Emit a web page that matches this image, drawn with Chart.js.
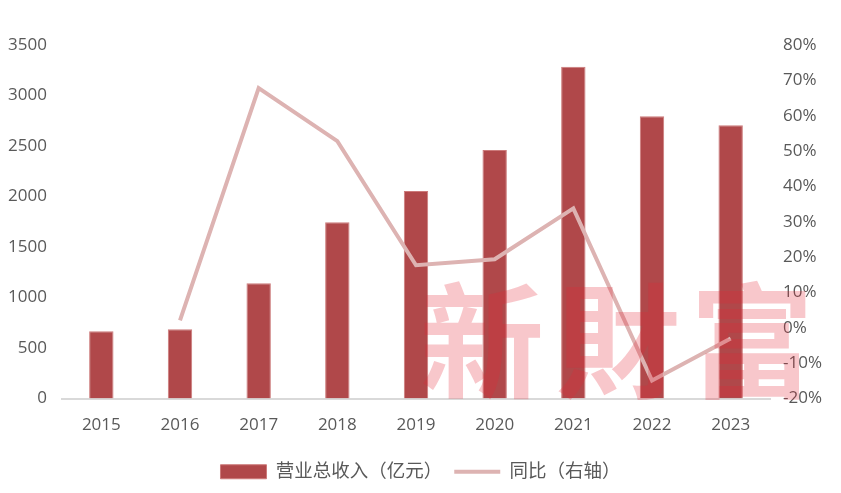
<!DOCTYPE html>
<html>
<head>
<meta charset="utf-8">
<script src="https://cdn.jsdelivr.net/npm/chart.js@4/dist/chart.umd.min.js"></script>
<style>
    html, body { margin: 0; padding: 0; background: #fff; }
    #wrap { width: 841px; height: 493px; }
</style>
</head>
<body>
<div id="wrap"><canvas id="revenueChart"></canvas></div>
<script>
const years = ['2015', '2016', '2017', '2018', '2019', '2020', '2021', '2022', '2023'];
const revenue = [665, 685, 1140, 1745, 2055, 2460, 3285, 2795, 2705];
const yoyPct = [null, 2.1, 67.8, 52.8, 17.7, 19.4, 33.8, -14.9, -3.0];
const revenueTicks = [0, 500, 1000, 1500, 2000, 2500, 3000, 3500];
const pctTicks = [-20, -10, 0, 10, 20, 30, 40, 50, 60, 70, 80];

const TEXT = '#595959';
const FONT = "'Open Sans', 'Noto Sans CJK SC', sans-serif";

// watermark drawn over the plot
const watermark = {
    id: 'watermark',
    afterDatasetsDraw(chart) {
        const ctx = chart.ctx;
        ctx.save();
        ctx.font = "bold 124px 'Noto Sans CJK TC'";
        ctx.fillStyle = 'rgba(228, 40, 55, 0.26)';
        ctx.textAlign = 'center';
        ctx.textBaseline = 'middle';
        ctx.fillText('新', 482, 341);
        ctx.fillText('財', 618, 341);
        ctx.fillText('富', 752, 341);
        ctx.restore();
    }
};

function initializeRevenueChart() {
    const ctx = document.getElementById('revenueChart').getContext('2d');
    new Chart(ctx, {
        data: {
            labels: years,
            datasets: [{
                type: 'line',
                label: '同比（右轴）',
                data: yoyPct,
                yAxisID: 'y1',
                borderColor: '#DDB3B2',
                backgroundColor: '#DDB3B2',
                borderWidth: 4,
                pointRadius: 0,
                pointStyle: 'line',
                tension: 0,
                order: 0
            }, {
                type: 'bar',
                label: '营业总收入（亿元）',
                data: revenue,
                yAxisID: 'y',
                backgroundColor: '#B0484A',
                borderColor: '#CC7A7A',
                borderWidth: 1,
                pointStyle: 'rect',
                categoryPercentage: 1,
                barPercentage: 0.31,
                order: 1
            }]
        },
        options: {
            responsive: true,
            maintainAspectRatio: false,
            animation: false,
            layout: { padding: { top: 45, left: 0, right: 0, bottom: 2 } },
            plugins: {
                tooltip: { enabled: false },
                legend: {
                    position: 'bottom',
                    reverse: true,
                    labels: {
                        usePointStyle: true,
                        pointStyleWidth: 46,
                        boxHeight: 14,
                        padding: 12,
                        color: TEXT,
                        font: { family: FONT, size: 18.5 }
                    }
                }
            },
            scales: {
                x: {
                    grid: { display: false, drawTicks: false },
                    border: { color: '#D9D9D9', width: 2 },
                    ticks: { color: TEXT, padding: 16, font: { family: FONT, size: 17 } },
                    afterFit: scale => { scale.height = 52; }
                },
                y: {
                    position: 'left',
                    min: 0,
                    max: 3500,
                    grid: { display: false, drawTicks: false },
                    border: { display: false },
                    afterBuildTicks: scale => { scale.ticks = revenueTicks.map(v => ({ value: v })); },
                    ticks: {
                        color: TEXT,
                        padding: 15,
                        font: { family: FONT, size: 17 },
                        callback: v => String(v)
                    },
                    afterFit: scale => { scale.width = 62; }
                },
                y1: {
                    position: 'right',
                    min: -20,
                    max: 80,
                    grid: { display: false, drawTicks: false },
                    border: { display: false },
                    afterBuildTicks: scale => { scale.ticks = pctTicks.map(v => ({ value: v })); },
                    ticks: {
                        color: TEXT,
                        padding: 13,
                        font: { family: FONT, size: 17 },
                        callback: v => v + '%'
                    },
                    afterFit: scale => { scale.width = 71; }
                }
            }
        },
        plugins: [watermark]
    });
}

document.addEventListener('DOMContentLoaded', () => {
    initializeRevenueChart();
});
</script>
</body>
</html>
